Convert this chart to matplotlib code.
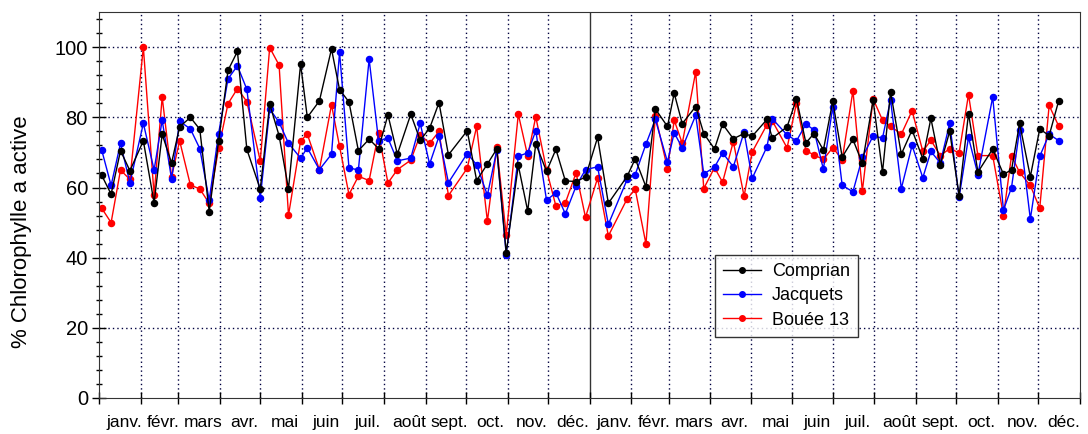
import numpy as np
import matplotlib.pyplot as plt
from matplotlib.ticker import MultipleLocator, FixedLocator, NullFormatter

plt.rcParams['font.family'] = ['Liberation Sans', 'DejaVu Sans']

# sampling day, counted from 1 January of the first year
days = [2, 9, 16, 23, 33, 41, 47, 54, 60, 68, 75, 82, 89, 96, 103, 110, 120,
        127, 134, 141, 150, 155, 164, 173, 179, 186, 193, 201, 208, 215, 222, 232, 239,
        246, 253, 260, 274, 281, 289, 296, 303, 312, 319, 325, 333, 340, 347, 355, 362,
        371, 379, 393, 399, 407, 414, 423, 428, 434, 444, 450, 458, 464, 472, 480, 486,
        497, 501, 512, 519, 526, 532, 539, 546, 553, 561, 568, 576, 583, 589, 597, 605,
        613, 619, 626, 633, 640, 647, 654, 665, 673, 679, 685, 693, 700, 707, 714]

comprian = [63.5, 58.1, 70.5, 64.8, 73.3, 55.6, 75.2, 67.0, 77.3, 80.0, 76.6, 53.1, 73.3, 93.4, 98.8, 70.9, 59.5,
            83.8, 74.8, 59.6, 95.2, 80.0, 84.7, 99.5, 87.9, 84.4, 70.5, 73.8, 71.1, 80.7, 69.5, 80.9, 73.5,
            76.9, 84.2, 69.3, 76.2, 62.0, 66.7, 71.0, 41.4, 66.3, 53.3, 72.5, 64.6, 70.9, 61.9, 61.7, 63.0,
            74.3, 55.5, 63.2, 68.2, 60.2, 82.4, 77.4, 86.9, 78.2, 83.1, 75.4, 71.0, 78.1, 73.9, 75.4, 74.6,
            79.4, 74.1, 77.3, 85.3, 72.7, 75.4, 70.7, 84.6, 68.7, 73.7, 66.9, 84.9, 64.4, 87.3, 69.5, 76.4,
            68.2, 79.7, 66.5, 76.0, 57.7, 81.1, 64.4, 71.0, 63.8, 65.0, 78.3, 63.1, 76.7, 74.8, 84.6]

jacquets = [70.7, 60.6, 72.6, 61.3, 78.3, 65.0, 79.2, 62.4, 78.9, 76.7, 71.1, 56.4, 75.4, 91.0, 94.7, 88.0, 57.0,
            82.4, 78.6, 72.6, 68.4, 71.3, 65.1, 69.5, 98.6, 65.6, 65.0, 96.6, 73.4, 74.1, 67.6, 68.4, 78.3,
            66.7, 74.6, 61.4, 69.7, 66.5, 57.8, 70.7, 40.9, 68.9, 69.9, 76.2, 56.4, 58.5, 52.5, 60.4, 65.1,
            65.9, 49.5, 62.3, 63.7, 72.4, 79.4, 67.3, 75.6, 71.3, 80.6, 63.9, 65.8, 69.9, 65.9, 75.8, 62.6,
            71.6, 79.6, 75.0, 73.3, 78.1, 76.4, 65.2, 83.0, 60.6, 58.8, 68.6, 74.7, 74.1, 85.0, 59.7, 72.0,
            62.8, 70.3, 67.0, 78.3, 57.2, 74.3, 63.7, 85.8, 53.6, 60.0, 76.5, 51.0, 68.9, 75.2, 73.4]

bouee13 = [54.1, 50.0, 65.0, 62.3, 100.0, 57.8, 85.8, 63.1, 73.3, 60.7, 59.6, 55.5, 71.2, 83.9, 88.2, 84.5, 67.6,
           99.9, 94.9, 52.1, 73.3, 75.2, 65.1, 83.6, 71.7, 58.0, 63.2, 62.0, 75.5, 61.3, 65.1, 67.8, 75.0,
           72.6, 76.0, 57.7, 65.5, 77.4, 50.4, 71.5, 46.5, 80.9, 69.0, 80.2, 65.0, 54.7, 55.6, 64.2, 51.5,
           62.7, 46.2, 56.8, 59.5, 43.9, 80.5, 65.4, 79.2, 72.6, 93.0, 59.7, 65.7, 61.5, 73.1, 57.5, 70.1,
           77.9, 79.0, 71.3, 84.1, 70.5, 69.3, 68.0, 71.4, 67.9, 87.6, 59.0, 85.3, 79.2, 77.5, 75.2, 81.9,
           70.3, 73.5, 69.1, 71.1, 69.9, 86.5, 69.1, 69.1, 52.0, 69.1, 64.3, 60.6, 54.1, 83.4, 77.6]

months = ['janv.', 'févr.', 'mars', 'avr.', 'mai', 'juin',
          'juil.', 'août', 'sept.', 'oct.', 'nov.', 'déc.']
month_len = [31, 28, 31, 30, 31, 30, 31, 31, 30, 31, 30, 31]

# month boundaries over two years
edges = np.concatenate([[0], np.cumsum(month_len * 2)])
centers = (edges[:-1] + edges[1:]) / 2

fig = plt.figure(figsize=(10.88, 4.34), dpi=100)
ax = fig.add_axes([0.091, 0.083, 0.9017, 0.889])

dot = dict(color='#000040', lw=1.0, ls=(0, (1, 2.2)), zorder=0)
for y in range(20, 101, 20):
    ax.axhline(y, **dot)
for e in edges[1:-1]:
    if e == 365:
        ax.axvline(e, color='#333333', lw=1.0, zorder=0)
    else:
        ax.axvline(e, **dot)

l3, = ax.plot(days, bouee13, '-o', color='red', lw=1, ms=4.4, label='Bouée 13')
l2, = ax.plot(days, jacquets, '-o', color='blue', lw=1, ms=4.4, label='Jacquets')
l1, = ax.plot(days, comprian, '-o', color='black', lw=1, ms=4.4, label='Comprian')

ax.set_xlim(0, 730)
ax.set_ylim(0, 110)

ax.xaxis.set_major_locator(FixedLocator(edges))
ax.xaxis.set_major_formatter(NullFormatter())
ax.xaxis.set_minor_locator(FixedLocator(centers + 3))
ax.set_xticklabels(months * 2, minor=True)
ax.tick_params(axis='x', which='major', direction='inout', length=8, width=1)
ax.tick_params(axis='x', which='minor', length=0, labelsize=12.5, pad=12)

ax.yaxis.set_major_locator(MultipleLocator(20))
ax.yaxis.set_minor_locator(MultipleLocator(4))
ax.tick_params(axis='y', which='major', direction='inout', length=10, width=1,
               labelsize=14.5, pad=3)
ax.tick_params(axis='y', which='minor', direction='inout', length=5, width=1)

for s in ax.spines.values():
    s.set_color('#333333')

ax.set_ylabel('% Chlorophylle a active', fontsize=16, labelpad=14)
ax.yaxis.set_label_coords(-0.068, 0.43)

leg = ax.legend(handles=[l1, l2, l3], loc='upper left', bbox_to_anchor=(0.628, 0.3705),
                borderaxespad=0, fontsize=13, frameon=True, fancybox=False,
                edgecolor='black', handlelength=2.1, borderpad=0.45,
                labelspacing=0.4, handletextpad=0.6)
leg.get_frame().set_linewidth(1.0)
for h in leg.legend_handles:
    h.set_markersize(4)

fig.savefig('out.png', dpi=100)
